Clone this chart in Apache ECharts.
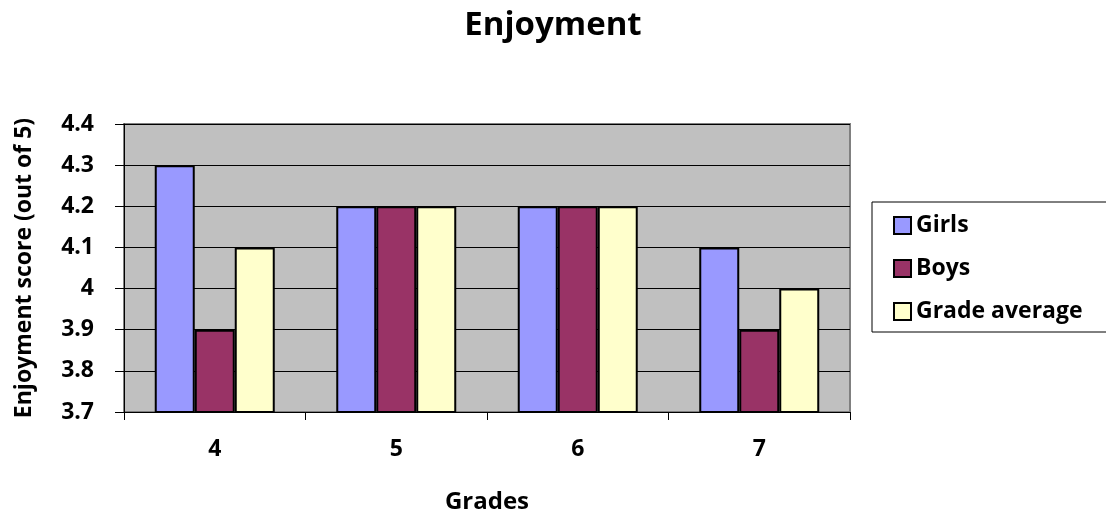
<!DOCTYPE html>
<html>
<head>
<meta charset="utf-8">
<script src="https://cdn.jsdelivr.net/npm/echarts@6/dist/echarts.min.js"></script>
<style>html,body{margin:0;padding:0;background:#fff}#c{width:1106px;height:516px}</style>
</head>
<body>
<div id="c"></div>
<script>
const categories = ['4', '5', '6', '7'];
const girls = [4.3, 4.2, 4.2, 4.1];
const boys = [3.9, 4.2, 4.2, 3.9];
const gradeAverage = [4.1, 4.2, 4.2, 4.0];
const seriesNames = ['Girls', 'Boys', 'Grade average'];
const seriesColors = ['#9999FF', '#993366', '#FFFFCC'];

const FONT = '"Open Sans", sans-serif';
const chart = echarts.init(document.getElementById('c'), null, {renderer: 'canvas'});
const dataSets = [girls, boys, gradeAverage];
chart.setOption({
  animation: false,
  title: {
    text: 'Enjoyment', left: 'center', top: 4,
    textStyle: {fontFamily: FONT, fontWeight: 'bold', fontSize: 33, color: '#000'}
  },
  grid: {
    left: 124, right: 256, top: 124, bottom: 104, outerBoundsMode: 'none', containLabel: false,
    show: true, backgroundColor: '#C0C0C0', borderColor: '#808080', borderWidth: 2
  },
  graphic: [{
    type: 'rect', shape: {x: 872, y: 202, width: 245, height: 130},
    style: {fill: '#fff', stroke: '#000', lineWidth: 1}, z: 0
  }],
  legend: {
    orient: 'vertical', left: 893, top: 214, itemGap: 20, padding: 0,
    itemWidth: 17, itemHeight: 17, icon: 'rect',
    textStyle: {fontFamily: FONT, fontWeight: 'bold', fontSize: 23, color: '#000', padding: [0, 0, 0, 0]},
    data: seriesNames, z: 5
  },
  xAxis: {
    type: 'category', data: categories,
    name: 'Grades', nameLocation: 'middle', nameGap: 78,
    nameTextStyle: {fontFamily: FONT, fontWeight: 'bold', fontSize: 24, color: '#000'},
    axisLine: {lineStyle: {color: '#000', width: 1}},
    axisTick: {show: true, length: 8, lineStyle: {color: '#000'}},
    axisLabel: {fontFamily: FONT, fontWeight: 'bold', fontSize: 23, color: '#000', margin: 26},
    splitLine: {show: false}
  },
  yAxis: {
    type: 'value', min: 3.7, max: 4.4, interval: 0.1,
    name: 'Enjoyment score (out of 5)', nameLocation: 'middle', nameGap: 88, nameRotate: 90,
    nameTextStyle: {fontFamily: FONT, fontWeight: 'bold', fontSize: 23, color: '#000'},
    axisLine: {show: true, lineStyle: {color: '#000', width: 1}},
    axisTick: {show: true, length: 9, lineStyle: {color: '#000'}},
    axisLabel: {fontFamily: FONT, fontWeight: 'bold', fontSize: 23, color: '#000', margin: 30,
      formatter: v => String(Math.round(v * 10) / 10)},
    splitLine: {show: true, lineStyle: {color: '#000', width: 1}}
  },
  series: seriesNames.map((n, i) => ({
    name: n, type: 'bar', data: dataSets[i], barWidth: 40, barGap: '0%',
    itemStyle: {color: seriesColors[i], borderColor: '#000', borderWidth: 2}
  }))
});
</script>
</body>
</html>
